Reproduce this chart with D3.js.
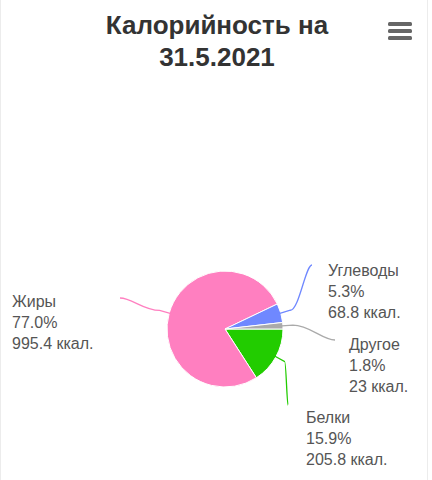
<!DOCTYPE html>
<html><head><meta charset="utf-8">
<script src="https://cdn.jsdelivr.net/npm/d3@7"></script>
<style>body{margin:0;background:#fff}svg{font-family:"Liberation Sans",Arial,sans-serif}</style>
</head><body>
<svg id="chart" width="432" height="480"></svg>
<script>
var categories = ["Белки", "Жиры", "Углеводы", "Другое"];
var percents = [15.9, 77.0, 5.3, 1.8];
var kcal = ["205.8", "995.4", "68.8", "23"];
var colors = ["#22cc00", "#ff7fc0", "#6f88ff", "#aaaaaa"];
// label anchor (text left x, first line y) and connector end
var labelPos = [[306, 423, 288, 405], [12, 307, 120, 298], [328, 276, 312, 265], [349, 350, 335, 340]];

var svg = d3.select("#chart");
svg.append("line").attr("x1", 0.5).attr("x2", 0.5).attr("y1", 0).attr("y2", 480).attr("stroke", "#ececec");
svg.append("line").attr("x1", 427.5).attr("x2", 427.5).attr("y1", 0).attr("y2", 480).attr("stroke", "#ececec");

svg.append("text").attr("x", 217).attr("y", 34).attr("text-anchor", "middle")
    .attr("font-size", 26).attr("font-weight", "bold").attr("fill", "#333").text("Калорийность на");
svg.append("text").attr("x", 217).attr("y", 66).attr("text-anchor", "middle")
    .attr("font-size", 26).attr("font-weight", "bold").attr("fill", "#333").text("31.5.2021");

// menu icon
[22, 29, 36].forEach(function (y) {
    svg.append("rect").attr("x", 388).attr("y", y).attr("width", 24).attr("height", 4).attr("rx", 1.5).attr("fill", "#666");
});

var cx = 225, cy = 329, r = 58;
var data = categories.map(function (c, i) { return { name: c, value: percents[i], kcal: kcal[i], i: i }; });
var pie = d3.pie().sort(null).value(function (d) { return d.value; })
    .startAngle(Math.PI / 2).endAngle(Math.PI / 2 + 2 * Math.PI);
var arcs = pie(data);
var arc = d3.arc().innerRadius(0).outerRadius(r);

var g = svg.append("g").attr("transform", "translate(" + cx + "," + cy + ")");
g.selectAll("path").data(arcs).enter().append("path")
    .attr("d", arc).attr("fill", function (d) { return colors[d.data.i]; })
    .attr("stroke", "#fff").attr("stroke-width", 1);

arcs.forEach(function (d) {
    var p = labelPos[d.data.i];
    var a = (d.startAngle + d.endAngle) / 2;
    var x0 = cx + Math.sin(a) * (r - 1), y0 = cy - Math.cos(a) * (r - 1);
    var x1 = cx + Math.sin(a) * (r + 10), y1 = cy - Math.cos(a) * (r + 10);
    var path = d3.path();
    path.moveTo(x0, y0);
    path.lineTo(x1, y1);
    path.bezierCurveTo(x1 + (p[2] - x1) * 0.4, y1, p[2] - (p[2] - x1) * 0.3, p[3], p[2], p[3]);
    svg.append("path").attr("d", path.toString()).attr("fill", "none")
        .attr("stroke", colors[d.data.i]).attr("stroke-width", 1.3);
    var t = svg.append("text").attr("font-size", 16).attr("fill", "#555");
    [d.data.name, d.data.value.toFixed(1) + "%", d.data.kcal + " ккал."].forEach(function (s, k) {
        t.append("tspan").attr("x", p[0]).attr("y", p[1] + k * 21).text(s);
    });
});
</script>
</body></html>
